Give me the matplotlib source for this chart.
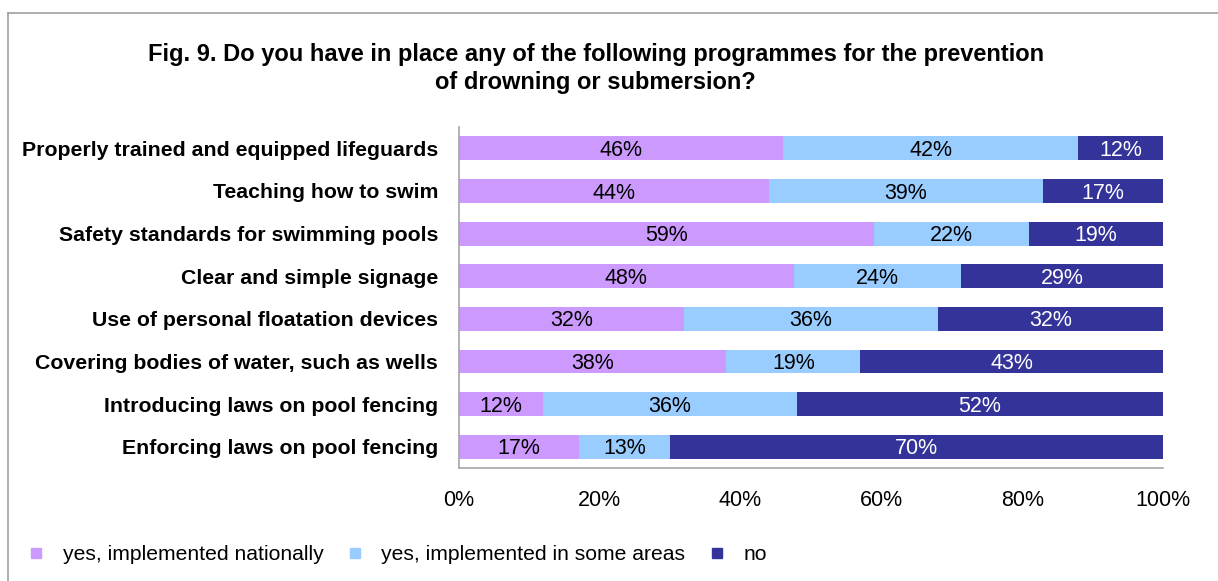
import numpy as np
import matplotlib.pyplot as plt
from matplotlib.lines import Line2D

plt.rcParams['font.family'] = ['Liberation Sans', 'DejaVu Sans']

categories = [
    "Properly trained and equipped lifeguards",
    "Teaching how to swim",
    "Safety standards for swimming pools",
    "Clear and simple signage",
    "Use of personal floatation devices",
    "Covering bodies of water, such as wells",
    "Introducing laws on pool fencing",
    "Enforcing laws on pool fencing",
]
national = [46, 44, 59, 48, 32, 38, 12, 17]
some_areas = [42, 39, 22, 24, 36, 19, 36, 13]
no = [12, 17, 19, 29, 32, 43, 52, 70]

series = [
    ("yes, implemented nationally", national, "#CC99FF", "black"),
    ("yes, implemented in some areas", some_areas, "#99CCFF", "black"),
    ("no", no, "#333399", "white"),
]

# 100% stacked: scale each row by its total
totals = np.array(national) + np.array(some_areas) + np.array(no)

fig = plt.figure(figsize=(12.18, 5.81), dpi=100)
ax = fig.add_axes([0.3768, 0.1945, 0.578, 0.5869])

y = np.arange(len(categories))
left = np.zeros(len(categories))
for name, vals, color, tcol in series:
    share = np.array(vals) / totals
    ax.barh(y, share, left=left, height=0.56, color=color, label=name)
    for yi, l, w, v in zip(y, left, share, vals):
        ax.text(l + w / 2, yi + 0.05, f"{v}%", ha="center", va="center",
                fontsize=15.5, color=tcol)
    left += share

ax.set_ylim(len(categories) - 0.5, -0.5)
ax.set_xlim(0, 1)
ax.set_yticks(y)
ax.set_yticklabels(categories, fontsize=15.3, fontweight="bold")
ax.set_xticks(np.linspace(0, 1, 6))
ax.set_xticklabels([f"{p}%" for p in range(0, 101, 20)], fontsize=15.5)
ax.tick_params(length=0)
ax.tick_params(axis="y", pad=15)
ax.tick_params(axis="x", pad=16)
for s in ["top", "right"]:
    ax.spines[s].set_visible(False)
for s in ["left", "bottom"]:
    ax.spines[s].set_color("#a6a6a6")
    ax.spines[s].set_linewidth(1.2)

fig.text(0.489, 0.882,
         "Fig. 9. Do you have in place any of the following programmes for the prevention\nof drowning or submersion?",
         ha="center", va="center", fontsize=17, fontweight="bold",
         linespacing=1.3)

# legend along the bottom
handles = [Line2D([], [], marker="s", linestyle="none", markersize=7.5,
                  color=c) for _, _, c, _ in series]
fig.legend(handles, [n for n, _, _, _ in series], loc="center left",
           bbox_to_anchor=(0.021, 0.045), ncol=3, frameon=False,
           fontsize=15.2, handletextpad=0.75, columnspacing=1.0,
           handlelength=1.0, borderpad=0, borderaxespad=0)

# outer chart frame
fig.add_artist(Line2D([8 / 1218, 1], [1 - 13 / 581, 1 - 13 / 581],
                      color="#a0a0a0", lw=1.2, transform=fig.transFigure))
fig.add_artist(Line2D([8 / 1218, 8 / 1218], [0, 1 - 13 / 581],
                      color="#a0a0a0", lw=1.2, transform=fig.transFigure))

fig.savefig("out.png", dpi=100)
